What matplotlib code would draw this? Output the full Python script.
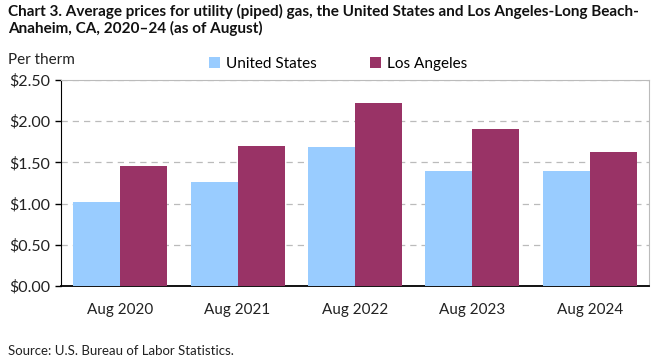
import matplotlib
matplotlib.use("Agg")
from matplotlib import pyplot as plt
import numpy as np

# data
categories = ["Aug 2020", "Aug 2021", "Aug 2022", "Aug 2023", "Aug 2024"]
us_prices = [1.02, 1.26, 1.69, 1.40, 1.40]
la_prices = [1.46, 1.70, 2.22, 1.91, 1.63]
series_names = ["United States", "Los Angeles"]
yticks = [0.0, 0.5, 1.0, 1.5, 2.0, 2.5]

plt.rcParams['font.family'] = ['Lato', 'DejaVu Sans']

fig = plt.figure(figsize=(6.61, 3.61), dpi=100)
ax = fig.add_axes([61.5 / 661, (361 - 286) / 361, (648.5 - 61.5) / 661, (286 - 80) / 361])

x = np.arange(len(categories))
w = 0.4
ax.bar(x - w / 2, us_prices, width=w, color="#99CCFF", label=series_names[0], zorder=3)
ax.bar(x + w / 2, la_prices, width=w, color="#993366", label=series_names[1], zorder=3)

ax.set_xlim(-0.5, len(categories) - 0.5)
ax.set_ylim(0, 2.5)
ax.set_yticks(yticks)
ax.set_yticklabels(["${:.2f}".format(v) for v in yticks], fontsize=11.5, color="#222222")
ax.set_xticks(x)
ax.set_xticklabels(categories, fontsize=11, color="#222222")
ax.tick_params(axis="x", length=0, pad=12)
ax.tick_params(axis="y", length=4, width=1, direction="out", pad=4)

ax.yaxis.grid(True, color="#BBBBBB", linestyle=(0, (5, 4)), linewidth=0.9, zorder=0)
ax.spines["left"].set_color("black")
ax.spines["bottom"].set_color("black")
ax.spines["bottom"].set_linewidth(1.3)
ax.spines["top"].set_color("#BBBBBB")
ax.spines["right"].set_color("#BBBBBB")

fig.text(8 / 661, 1 - 4 / 361, "Chart 3. Average prices for utility (piped) gas, the United States and Los Angeles-Long Beach-\nAnaheim, CA, 2020\u201324 (as of August)",
         fontsize=11, fontweight="bold", va="top", ha="left", linespacing=1.15, color="#111111")
fig.text(8 / 661, 1 - 60 / 361, "Per therm", fontsize=11, va="center", ha="left", color="#222222")
fig.text(8 / 661, 1 - 351 / 361, "Source: U.S. Bureau of Labor Statistics.", fontsize=9.5, va="center", ha="left", color="#222222")

fig.legend(loc="center", bbox_to_anchor=(338 / 661, 1 - 64 / 361), ncol=2, frameon=False,
           fontsize=11, handlelength=0.7, handleheight=0.7, handletextpad=0.4, columnspacing=3.5)

fig.savefig("out.png", dpi=100)
